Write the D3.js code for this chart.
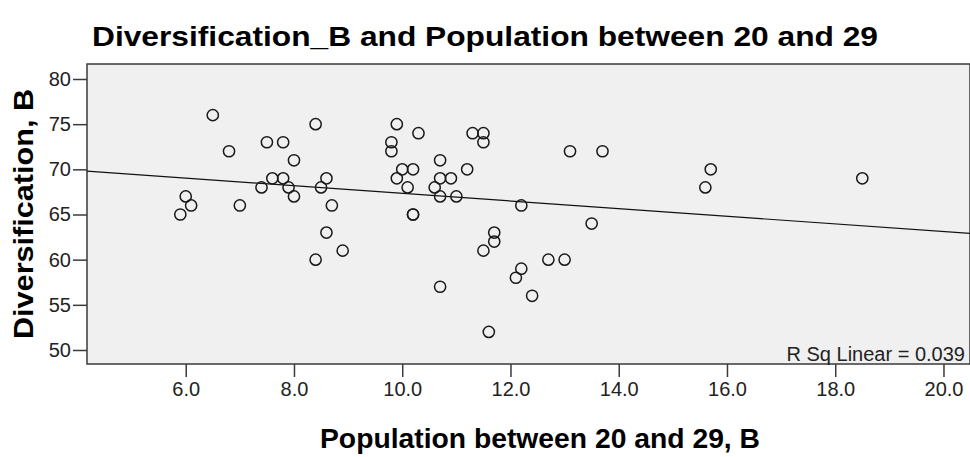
<!DOCTYPE html>
<html>
<head>
<meta charset="utf-8">
<script src="https://cdn.jsdelivr.net/npm/d3@7"></script>
<style>
  html, body { margin: 0; padding: 0; background: #fff; }
  svg { display: block; font-family: "Liberation Sans", Arial, sans-serif; }
</style>
</head>
<body>
<div id="chart"></div>
<script>
// population share aged 20-29 (x) vs diversification score (y), one entry per case
const popShare = [5.9, 6.0, 6.1, 6.5, 6.8, 7.0, 7.4, 7.5, 7.6, 7.8,
  7.8, 7.9, 8.0, 8.0, 8.4, 8.5, 8.6, 8.6, 8.7, 8.4,
  8.9, 9.9, 9.8, 9.8, 10.3, 10.0, 10.2, 9.9, 10.1, 10.2,
  10.2, 10.7, 10.7, 10.9, 10.6, 10.7, 11.0, 11.2, 11.3, 11.5,
  11.5, 10.7, 11.6, 11.7, 11.7, 11.5, 12.2, 12.2, 12.1, 12.4,
  12.7, 13.0, 13.1, 13.7, 13.5, 15.7, 15.6, 18.5];
const diversification = [65, 67, 66, 76, 72, 66, 68, 73, 69, 73,
  69, 68, 71, 67, 75, 68, 69, 63, 66, 60,
  61, 75, 73, 72, 74, 70, 70, 69, 68, 65,
  65, 71, 69, 69, 68, 67, 67, 70, 74, 74,
  73, 57, 52, 63, 62, 61, 66, 59, 58, 56,
  60, 60, 72, 72, 64, 70, 68, 69];
const xTicks = [6, 8, 10, 12, 14, 16, 18, 20];
const yTicks = [50, 55, 60, 65, 70, 75, 80];
// fit line as printed by the original output (y = a + b*x)
const fitIntercept = 71.57;
const fitSlope = -0.423;
const rSqLabel = "R Sq Linear = 0.039";

const W = 970, H = 457;
const plot = { left: 87, top: 64, right: 970, bottom: 364 };

const svg = d3.select("#chart").append("svg").attr("width", W).attr("height", H);

const x = d3.scaleLinear().domain([4.176, 20.49]).range([plot.left, plot.right]);
const y = d3.scaleLinear().domain([48.45, 81.66]).range([plot.bottom, plot.top]);

// plot panel
svg.append("rect")
  .attr("x", plot.left).attr("y", plot.top)
  .attr("width", plot.right - plot.left).attr("height", plot.bottom - plot.top)
  .attr("fill", "#f0f0f0").attr("stroke", "#3a3a3a").attr("stroke-width", 1.5);

svg.append("clipPath").attr("id", "clip").append("rect")
  .attr("x", plot.left).attr("y", plot.top)
  .attr("width", plot.right - plot.left).attr("height", plot.bottom - plot.top);

const xd = x.domain();
svg.append("line")
  .attr("clip-path", "url(#clip)")
  .attr("x1", x(xd[0])).attr("y1", y(fitIntercept + fitSlope * xd[0]))
  .attr("x2", x(xd[1])).attr("y2", y(fitIntercept + fitSlope * xd[1]))
  .attr("stroke", "#111").attr("stroke-width", 1.2);

const pts = popShare.map((v, i) => [v, diversification[i]]);
svg.append("g").selectAll("circle").data(pts).join("circle")
  .attr("cx", d => x(d[0])).attr("cy", d => y(d[1]))
  .attr("r", 5.6)
  .attr("fill", "none").attr("stroke", "#1a1a1a").attr("stroke-width", 1.5);

// axes
const xAxis = svg.append("g").attr("transform", `translate(0,${plot.bottom})`)
  .call(d3.axisBottom(x).tickValues(xTicks).tickFormat(d3.format(".1f")).tickSize(13).tickPadding(5));
const yAxis = svg.append("g").attr("transform", `translate(${plot.left},0)`)
  .call(d3.axisLeft(y).tickValues(yTicks).tickSize(14).tickPadding(2));
[xAxis, yAxis].forEach(a => {
  a.select(".domain").remove();
  a.selectAll(".tick line").attr("stroke", "#3a3a3a").attr("stroke-width", 1.5);
  a.selectAll(".tick text").attr("fill", "#222")
    .style("font-size", "20px").style("font-family", "'Liberation Sans', Arial, sans-serif");
});

svg.append("text")
  .attr("x", 965).attr("y", 361).attr("text-anchor", "end")
  .attr("font-size", 20).attr("fill", "#222")
  .text(rSqLabel);

// titles
svg.append("text")
  .attr("x", 92).attr("y", 46)
  .attr("font-size", 28).attr("font-weight", "bold").attr("fill", "#000")
  .attr("textLength", 786).attr("lengthAdjust", "spacingAndGlyphs")
  .text("Diversification_B and Population between 20 and 29");

svg.append("text")
  .attr("x", 320).attr("y", 448)
  .attr("font-size", 28).attr("font-weight", "bold").attr("fill", "#000")
  .attr("textLength", 440).attr("lengthAdjust", "spacingAndGlyphs")
  .text("Population between 20 and 29, B");

svg.append("text")
  .attr("transform", `translate(33,${(plot.top + plot.bottom) / 2}) rotate(-90)`)
  .attr("text-anchor", "middle")
  .attr("font-size", 28).attr("font-weight", "bold").attr("fill", "#000")
  .attr("textLength", 250).attr("lengthAdjust", "spacingAndGlyphs")
  .text("Diversification, B");
</script>
</body>
</html>
